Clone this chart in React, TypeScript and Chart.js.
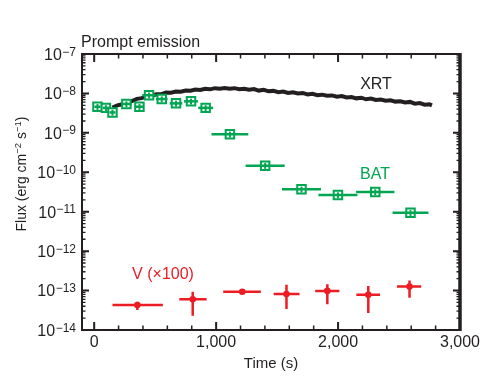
import React, { useEffect, useRef } from 'react';
import { Chart, registerables } from 'chart.js';

Chart.register(...registerables);

const FONT = '"Liberation Sans", Arial, Helvetica, sans-serif';
const INK = '#231f20';
const GREEN = '#00a651';
const RED = '#ec1c24';

// Axis ticks
const xTickValues = [0, 1000, 2000, 3000];
const xTickLabels = ['0', '1,000', '2,000', '3,000'];
const xMinorTicks = [0, 200, 400, 600, 800, 1000, 1200, 1400, 1600, 1800, 2000, 2200, 2400, 2600, 2800, 3000];
const yTickExponents = [-7, -8, -9, -10, -11, -12, -13, -14];

// Texts
const chartTitle = 'Prompt emission';
const xAxisTitle = 'Time (s)';
const yAxisTitleParts = [
  { text: 'Flux (erg cm', sup: false },
  { text: '\u22122', sup: true },
  { text: ' s', sup: false },
  { text: '\u22121', sup: true },
  { text: ')', sup: false },
];
const xrtLabel = 'XRT';
const batLabel = 'BAT';
const vLabel = 'V (\u00d7100)';

// XRT light curve (s, erg cm^-2 s^-1)
const xrtTime = [150, 190, 230, 270, 310, 350, 390, 430, 470, 510, 550, 590, 630, 670, 710, 750, 790, 830, 870, 910, 950, 990, 1030, 1070, 1110, 1150, 1190, 1230, 1270, 1310, 1350, 1390, 1430, 1470, 1510, 1550, 1590, 1630, 1670, 1710, 1750, 1790, 1830, 1870, 1910, 1950, 1990, 2030, 2070, 2110, 2150, 2190, 2230, 2270, 2310, 2350, 2390, 2430, 2470, 2510, 2550, 2590, 2630, 2670, 2710, 2750, 2770];
const xrtFlux = [4.4e-9, 5.0e-9, 5.3e-9, 6.1e-9, 6.4e-9, 7.3e-9, 7.6e-9, 8.5e-9, 8.6e-9, 9.5e-9, 9.6e-9, 1.05e-8, 1.04e-8, 1.12e-8, 1.10e-8, 1.19e-8, 1.17e-8, 1.26e-8, 1.22e-8, 1.31e-8, 1.27e-8, 1.36e-8, 1.31e-8, 1.37e-8, 1.32e-8, 1.36e-8, 1.28e-8, 1.32e-8, 1.24e-8, 1.29e-8, 1.18e-8, 1.23e-8, 1.13e-8, 1.16e-8, 1.08e-8, 1.12e-8, 1.03e-8, 1.07e-8, 1.0e-8, 1.03e-8, 9.4e-9, 9.8e-9, 9.0e-9, 9.3e-9, 8.7e-9, 8.9e-9, 8.3e-9, 8.6e-9, 7.9e-9, 8.1e-9, 7.5e-9, 7.8e-9, 7.1e-9, 7.4e-9, 6.8e-9, 7.0e-9, 6.5e-9, 6.7e-9, 6.2e-9, 6.3e-9, 5.9e-9, 6.1e-9, 5.5e-9, 5.7e-9, 5.2e-9, 5.3e-9, 5.0e-9];

// BAT points
const batTime = [27, 96, 150, 264, 371, 450, 554, 671, 794, 914, 1113, 1402, 1700, 1999, 2305, 2594];
const batFlux = [4.6e-9, 4.3e-9, 3.3e-9, 5.4e-9, 4.6e-9, 9.0e-9, 7.2e-9, 5.6e-9, 6.3e-9, 4.3e-9, 9.2e-10, 1.47e-10, 3.7e-11, 2.65e-11, 3.16e-11, 9.4e-12];
const batTimeErr = [25, 25, 25, 44, 38, 55, 48, 52, 57, 61, 151, 160, 160, 160, 157, 147];
const batFluxRelErr = [0.17, 0.17, 0.17, 0.17, 0.17, 0.17, 0.17, 0.17, 0.17, 0.17, 0.17, 0.17, 0.17, 0.17, 0.17, 0.17];

// V band (x100)
const vTime = [354, 808, 1214, 1577, 1912, 2248, 2586];
const vFlux = [4.3e-14, 6.0e-14, 9.3e-14, 8.2e-14, 9.8e-14, 7.8e-14, 1.26e-13];
const vTimeLo = [150, 698, 1058, 1472, 1813, 2150, 2483];
const vTimeHi = [563, 922, 1367, 1684, 2011, 2344, 2682];
const vFluxLo = [3.2e-14, 2.3e-14, 8.6e-14, 3.4e-14, 4.5e-14, 2.7e-14, 6.6e-14];
const vFluxHi = [5.2e-14, 9.3e-14, 1.0e-13, 1.4e-13, 1.45e-13, 1.3e-13, 1.8e-13];

const decorPlugin = {
  id: 'decor',
  afterDatasetsDraw(chart: any) {
    const { ctx, scales } = chart;
    const x = scales.x;
    const y = scales.y;
    ctx.save();
    ctx.lineCap = 'butt';
    // BAT error bars
    ctx.strokeStyle = GREEN;
    batTime.forEach((t, i) => {
      const px = x.getPixelForValue(t);
      const py = y.getPixelForValue(batFlux[i]);
      ctx.lineWidth = 2.5;
      ctx.beginPath();
      ctx.moveTo(x.getPixelForValue(t - batTimeErr[i]), py);
      ctx.lineTo(x.getPixelForValue(t + batTimeErr[i]), py);
      ctx.stroke();
      ctx.lineWidth = 2;
      ctx.beginPath();
      ctx.moveTo(px, y.getPixelForValue(batFlux[i] * (1 + batFluxRelErr[i])));
      ctx.lineTo(px, y.getPixelForValue(batFlux[i] * (1 - batFluxRelErr[i])));
      ctx.stroke();
    });
    // V error bars
    ctx.strokeStyle = RED;
    ctx.lineWidth = 2.5;
    vTime.forEach((t, i) => {
      const px = x.getPixelForValue(t);
      const py = y.getPixelForValue(vFlux[i]);
      ctx.beginPath();
      ctx.moveTo(x.getPixelForValue(vTimeLo[i]), py);
      ctx.lineTo(x.getPixelForValue(vTimeHi[i]), py);
      ctx.moveTo(px, y.getPixelForValue(vFluxHi[i]));
      ctx.lineTo(px, y.getPixelForValue(vFluxLo[i]));
      ctx.stroke();
    });
    ctx.restore();
  },
  afterDraw(chart: any) {
    const { ctx, chartArea: a, scales } = chart;
    const x = scales.x;
    const y = scales.y;
    ctx.save();
    ctx.strokeStyle = INK;
    ctx.fillStyle = INK;
    // x ticks (inside, top and bottom)
    xMinorTicks.forEach((v) => {
      const major = xTickValues.includes(v);
      const px = x.getPixelForValue(v);
      const len = major ? 8 : 4.5;
      ctx.lineWidth = major ? 2 : 1.5;
      ctx.beginPath();
      ctx.moveTo(px, a.bottom);
      ctx.lineTo(px, a.bottom - len);
      ctx.moveTo(px, a.top);
      ctx.lineTo(px, a.top + len);
      ctx.stroke();
    });
    // y ticks (inside, left and right)
    yTickExponents.forEach((k) => {
      const py = y.getPixelForValue(Math.pow(10, k));
      ctx.lineWidth = 2;
      ctx.beginPath();
      ctx.moveTo(a.left, py);
      ctx.lineTo(a.left + 7, py);
      ctx.moveTo(a.right, py);
      ctx.lineTo(a.right - 7, py);
      ctx.stroke();
      if (k > -7 - yTickExponents.length + 1) {
        ctx.lineWidth = 1.3;
        ctx.beginPath();
        for (let m = 2; m <= 9; m++) {
          const pm = y.getPixelForValue(m * Math.pow(10, k - 1));
          ctx.moveTo(a.left, pm);
          ctx.lineTo(a.left + 3.5, pm);
          ctx.moveTo(a.right, pm);
          ctx.lineTo(a.right - 3.5, pm);
        }
        ctx.stroke();
      }
    });
    // frame
    ctx.lineWidth = 2;
    ctx.strokeRect(a.left, a.top, a.right - a.left, a.bottom - a.top);
    ctx.lineWidth = 3.5;
    ctx.beginPath();
    ctx.moveTo(a.right, a.top - 1);
    ctx.lineTo(a.right, a.bottom + 1);
    ctx.stroke();

    // y tick labels with superscripts
    const supFont = `12px ${FONT}`;
    const mainFont = `16px ${FONT}`;
    const labelRight = a.left - 6;
    yTickExponents.forEach((k) => {
      const py = y.getPixelForValue(Math.pow(10, k));
      const sup = `\u2212${Math.abs(k)}`;
      ctx.font = supFont;
      ctx.textAlign = 'right';
      ctx.textBaseline = 'alphabetic';
      const sw = ctx.measureText(sup).width;
      ctx.fillText(sup, labelRight, py + 1.5);
      ctx.font = mainFont;
      ctx.fillText('10', labelRight - sw - 0.5, py + 5.8);
    });

    // y axis title (rotated)
    ctx.save();
    ctx.translate(20, 174);
    ctx.rotate(-Math.PI / 2);
    const mainT = `14px ${FONT}`;
    const supT = `9.5px ${FONT}`;
    let total = 0;
    yAxisTitleParts.forEach((p) => {
      ctx.font = p.sup ? supT : mainT;
      total += ctx.measureText(p.text).width;
    });
    let cx = -total / 2;
    ctx.textAlign = 'left';
    ctx.textBaseline = 'alphabetic';
    yAxisTitleParts.forEach((p) => {
      ctx.font = p.sup ? supT : mainT;
      ctx.fillText(p.text, cx, p.sup ? 0.5 : 5.5);
      cx += ctx.measureText(p.text).width;
    });
    ctx.restore();

    // title and annotations
    ctx.font = `16px ${FONT}`;
    ctx.textBaseline = 'alphabetic';
    ctx.textAlign = 'left';
    ctx.fillStyle = INK;
    ctx.fillText(chartTitle, a.left - 1, 47);
    ctx.textAlign = 'center';
    ctx.fillText(xrtLabel, 376, 88.5);
    ctx.fillStyle = GREEN;
    ctx.fillText(batLabel, 375, 179);
    ctx.fillStyle = RED;
    ctx.fillText(vLabel, 163, 278.5);
    ctx.restore();
  },
};

export default function App() {
  const ref = useRef<HTMLCanvasElement | null>(null);
  useEffect(() => {
    document.body.style.margin = '0';
    const canvas = ref.current;
    if (!canvas) return;
    const chart = new Chart(canvas, {
      type: 'scatter',
      data: {
        datasets: [
          {
            label: batLabel,
            data: batTime.map((t, i) => ({ x: t, y: batFlux[i] })),
            showLine: false,
            pointStyle: 'rect',
            pointRadius: 6,
            pointBackgroundColor: '#ffffff',
            pointBorderColor: GREEN,
            pointBorderWidth: 2,
          },
          {
            label: vLabel,
            data: vTime.map((t, i) => ({ x: t, y: vFlux[i] })),
            showLine: false,
            pointStyle: 'circle',
            pointRadius: 3.3,
            pointBackgroundColor: RED,
            pointBorderColor: RED,
            pointBorderWidth: 0,
          },
          {
            label: xrtLabel,
            data: xrtTime.map((t, i) => ({ x: t, y: xrtFlux[i] })),
            showLine: true,
            borderColor: INK,
            borderWidth: 4,
            pointRadius: 0,
            tension: 0,
          },
        ],
      },
      options: {
        responsive: false,
        animation: false,
        layout: { padding: { top: 54, right: 43, left: 0, bottom: 0 } },
        plugins: { legend: { display: false }, tooltip: { enabled: false } },
        scales: {
          x: {
            type: 'linear',
            min: -100,
            max: 3000,
            grid: { display: false, drawTicks: false },
            border: { display: false },
            afterBuildTicks: (s: any) => {
              s.ticks = xTickValues.map((v) => ({ value: v }));
            },
            ticks: {
              autoSkip: false,
              maxRotation: 0,
              padding: 3,
              color: INK,
              font: { family: FONT, size: 16 },
              callback: (v: any) => {
                const i = xTickValues.indexOf(Number(v));
                return i >= 0 ? xTickLabels[i] : '';
              },
            },
            title: {
              display: true,
              text: xAxisTitle,
              color: INK,
              font: { family: FONT, size: 15 },
              padding: { top: 0, bottom: 7 },
            },
            afterFit: (s: any) => {
              s.height = 50;
            },
          },
          y: {
            type: 'logarithmic',
            min: 1e-14,
            max: 1e-7,
            grid: { display: false, drawTicks: false },
            border: { display: false },
            ticks: { display: false },
            afterFit: (s: any) => {
              s.width = 82;
            },
          },
        },
      },
      plugins: [decorPlugin],
    } as any);
    return () => chart.destroy();
  }, []);
  return (
    <div style={{ width: 503, height: 380 }}>
      <canvas ref={ref} width={503} height={380} style={{ display: 'block' }} />
    </div>
  );
}
